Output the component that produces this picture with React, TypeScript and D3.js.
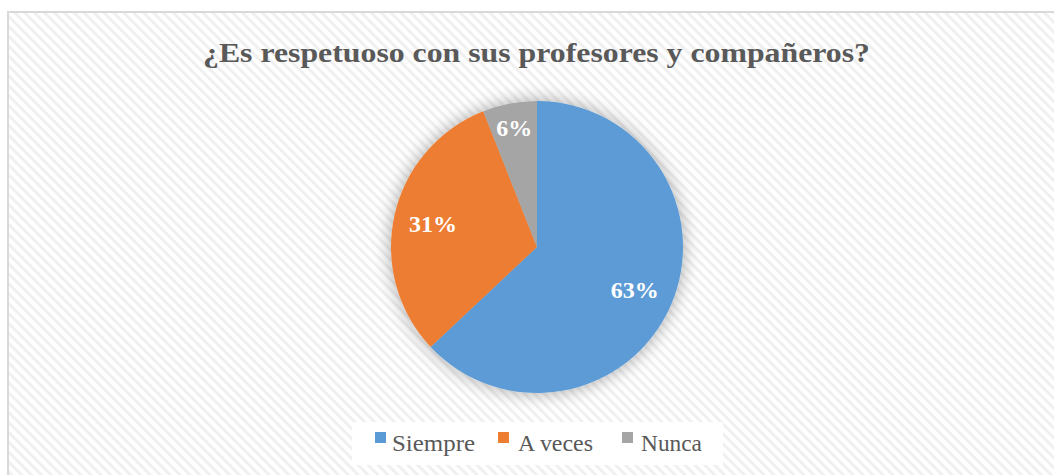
import React from "react";
import * as d3 from "d3";

const categories = ["Siempre", "A veces", "Nunca"];
const values = [63, 31, 6];
const colors = ["#5B9BD5", "#ED7D31", "#A5A5A5"];
const title = "¿Es respetuoso con sus profesores y compañeros?";

const W = 1054;
const H = 475;
const cx = 537;
const cy = 247;
const R = 146;

export default function App() {
  const pie = d3.pie<number>().value((d) => d).sort(null);
  const arcs = pie(values);
  const arcGen = d3.arc<d3.PieArcDatum<number>>().innerRadius(0).outerRadius(R);
  const total = d3.sum(values);
  const labelR = [0.73, 0.73, 0.83];

  const legendX = [375, 498, 622];
  const legendTextX = [392, 518, 641];
  const legendTextW = [83, 75, 61];
  const serif = "'Liberation Serif', 'Times New Roman', serif";

  return (
    <svg
      width={W}
      height={H}
      style={{ position: "absolute", left: 0, top: 0, background: "#fff" }}
      fontFamily={serif}
    >
      <defs>
        <pattern id="stripes" width="7" height="7" patternUnits="userSpaceOnUse" patternTransform="rotate(-45)">
          <rect width="7" height="7" fill="#ffffff" />
          <rect width="3" height="7" fill="#f0f0f0" />
        </pattern>
        <filter id="glow" x="-30%" y="-30%" width="160%" height="160%">
          <feGaussianBlur in="SourceAlpha" stdDeviation="9" />
          <feComponentTransfer>
            <feFuncA type="linear" slope="0.35" />
          </feComponentTransfer>
          <feMerge>
            <feMergeNode />
            <feMergeNode in="SourceGraphic" />
          </feMerge>
        </filter>
      </defs>
      <rect x={8} y={12} width={W} height={H} fill="url(#stripes)" stroke="#d9d9d9" strokeWidth={2} />
      <text
        x={203}
        y={62}
        fontSize={27}
        fontWeight="bold"
        fill="#595959"
        textLength={667}
        lengthAdjust="spacingAndGlyphs"
      >
        {title}
      </text>
      <g transform={`translate(${cx},${cy})`} filter="url(#glow)">
        {arcs.map((a, i) => (
          <path key={i} d={arcGen(a) || ""} fill={colors[i]} />
        ))}
      </g>
      <g transform={`translate(${cx},${cy})`}>
        {arcs.map((a, i) => {
          const r = R * labelR[i];
          const [lx, ly] = d3.arc<d3.PieArcDatum<number>>().innerRadius(r).outerRadius(r).centroid(a);
          return (
            <text
              key={i}
              x={lx}
              y={ly}
              dy="0.35em"
              textAnchor="middle"
              fontSize={24}
              fontWeight="bold"
              fill="#ffffff"
            >
              {Math.round((values[i] / total) * 100)}%
            </text>
          );
        })}
      </g>
      <rect x={352} y={422} width={371} height={43} fill="#ffffff" fillOpacity={0.9} />
      {categories.map((c, i) => (
        <g key={c}>
          <rect x={legendX[i]} y={432} width={11} height={11} fill={colors[i]} />
          <text
            x={legendTextX[i]}
            y={451}
            fontSize={24}
            fill="#595959"
            textLength={legendTextW[i]}
            lengthAdjust="spacingAndGlyphs"
          >
            {c}
          </text>
        </g>
      ))}
    </svg>
  );
}
